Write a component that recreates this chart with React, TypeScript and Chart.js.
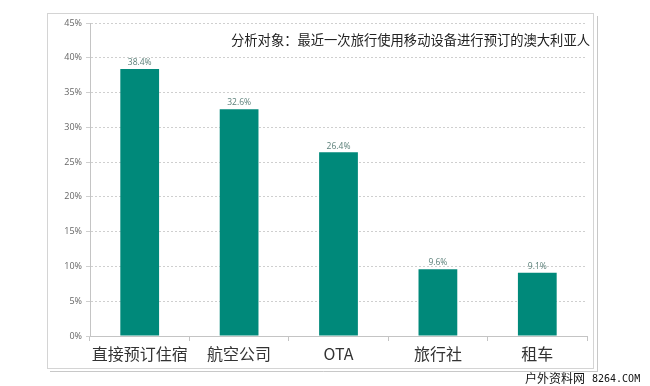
import React, { useEffect, useRef } from "react";
import { Chart, registerables } from "chart.js";

Chart.register(...registerables);

const categories = ["直接预订住宿", "航空公司", "OTA", "旅行社", "租车"];
const shares = [38.4, 32.6, 26.4, 9.6, 9.1];
const yTicks = [0, 5, 10, 15, 20, 25, 30, 35, 40, 45];
const subtitle = "分析对象：最近一次旅行使用移动设备进行预订的澳大利亚人";
const watermarkCn = "户外资料网";
const watermarkEn = "8264.COM";

const BAR = "#00897a";

const decorPlugin = {
  id: "decor",
  beforeDraw(chart: any) {
    const ctx = chart.ctx;
    ctx.save();
    ctx.fillStyle = "#ffffff";
    ctx.fillRect(0, 0, chart.width, chart.height);
    ctx.strokeStyle = "#d4d4d4";
    ctx.lineWidth = 1;
    ctx.strokeRect(47.5, 13.5, 546, 355);
    ctx.strokeStyle = "#c8c8c8";
    ctx.beginPath();
    ctx.moveTo(597.5, 16);
    ctx.lineTo(597.5, 372);
    ctx.moveTo(50, 371.5);
    ctx.lineTo(597.5, 371.5);
    ctx.stroke();
    ctx.restore();
  },
  afterDraw(chart: any) {
    const ctx = chart.ctx;
    ctx.save();
    // subtitle
    ctx.fillStyle = "#222222";
    ctx.font = "13.3px 'Noto Sans CJK SC'";
    ctx.textAlign = "right";
    ctx.textBaseline = "middle";
    ctx.fillText(subtitle, 590, 40);
    // data labels
    const meta = chart.getDatasetMeta(0);
    ctx.font = "8.5px 'Open Sans'";
    ctx.fillStyle = "#5a7f78";
    ctx.textAlign = "center";
    ctx.textBaseline = "bottom";
    meta.data.forEach((el: any, i: number) => {
      ctx.fillText(shares[i].toFixed(1) + "%", el.x, el.y - 2);
    });
    // watermark
    ctx.fillStyle = "#111111";
    ctx.textAlign = "left";
    ctx.textBaseline = "middle";
    ctx.font = "12px 'Noto Sans CJK SC'";
    ctx.fillText(watermarkCn, 525, 378);
    ctx.font = "10px 'DejaVu Sans Mono'";
    ctx.fillText(watermarkEn, 592, 379);
    ctx.restore();
  },
};

export default function App() {
  const ref = useRef<HTMLCanvasElement | null>(null);
  useEffect(() => {
    if (!ref.current) return;
    const chart = new Chart(ref.current, {
      type: "bar",
      data: {
        labels: categories,
        datasets: [
          {
            data: shares,
            backgroundColor: BAR,
            borderWidth: 0,
            barPercentage: 0.39,
            categoryPercentage: 1,
          },
        ],
      },
      options: {
        responsive: false,
        animation: false,
        layout: { padding: { left: 47, top: 23, right: 63, bottom: 17 } },
        plugins: { legend: { display: false }, tooltip: { enabled: false } },
        scales: {
          x: {
            grid: {
              offset: true,
              drawOnChartArea: false,
              tickLength: 5,
              color: "#c4c4c4",
            },
            border: { color: "#c4c4c4" },
            ticks: {
              padding: 3,
              color: "#333333",
              font: { size: 16, family: "'Noto Sans CJK SC'" },
              maxRotation: 0,
            },
            afterFit: (s: any) => {
              s.height = 33;
            },
          },
          y: {
            min: 0,
            max: 45,
            afterBuildTicks: (s: any) => {
              s.ticks = yTicks.map((v) => ({ value: v }));
            },
            grid: { color: "#cfcfcf", tickLength: 4 },
            border: { color: "#c4c4c4", dash: [2, 2] },
            ticks: {
              padding: 4,
              color: "#666666",
              font: { size: 9, family: "'Open Sans'" },
              callback: (v: any) => v + "%",
            },
            afterFit: (s: any) => {
              s.width = 43;
            },
          },
        },
      },
      plugins: [decorPlugin],
    });
    return () => chart.destroy();
  }, []);
  return (
    <div style={{ position: "absolute", left: 0, top: 0, width: 650, height: 386 }}>
      <canvas ref={ref} width={650} height={386} style={{ width: 650, height: 386 }} />
    </div>
  );
}
